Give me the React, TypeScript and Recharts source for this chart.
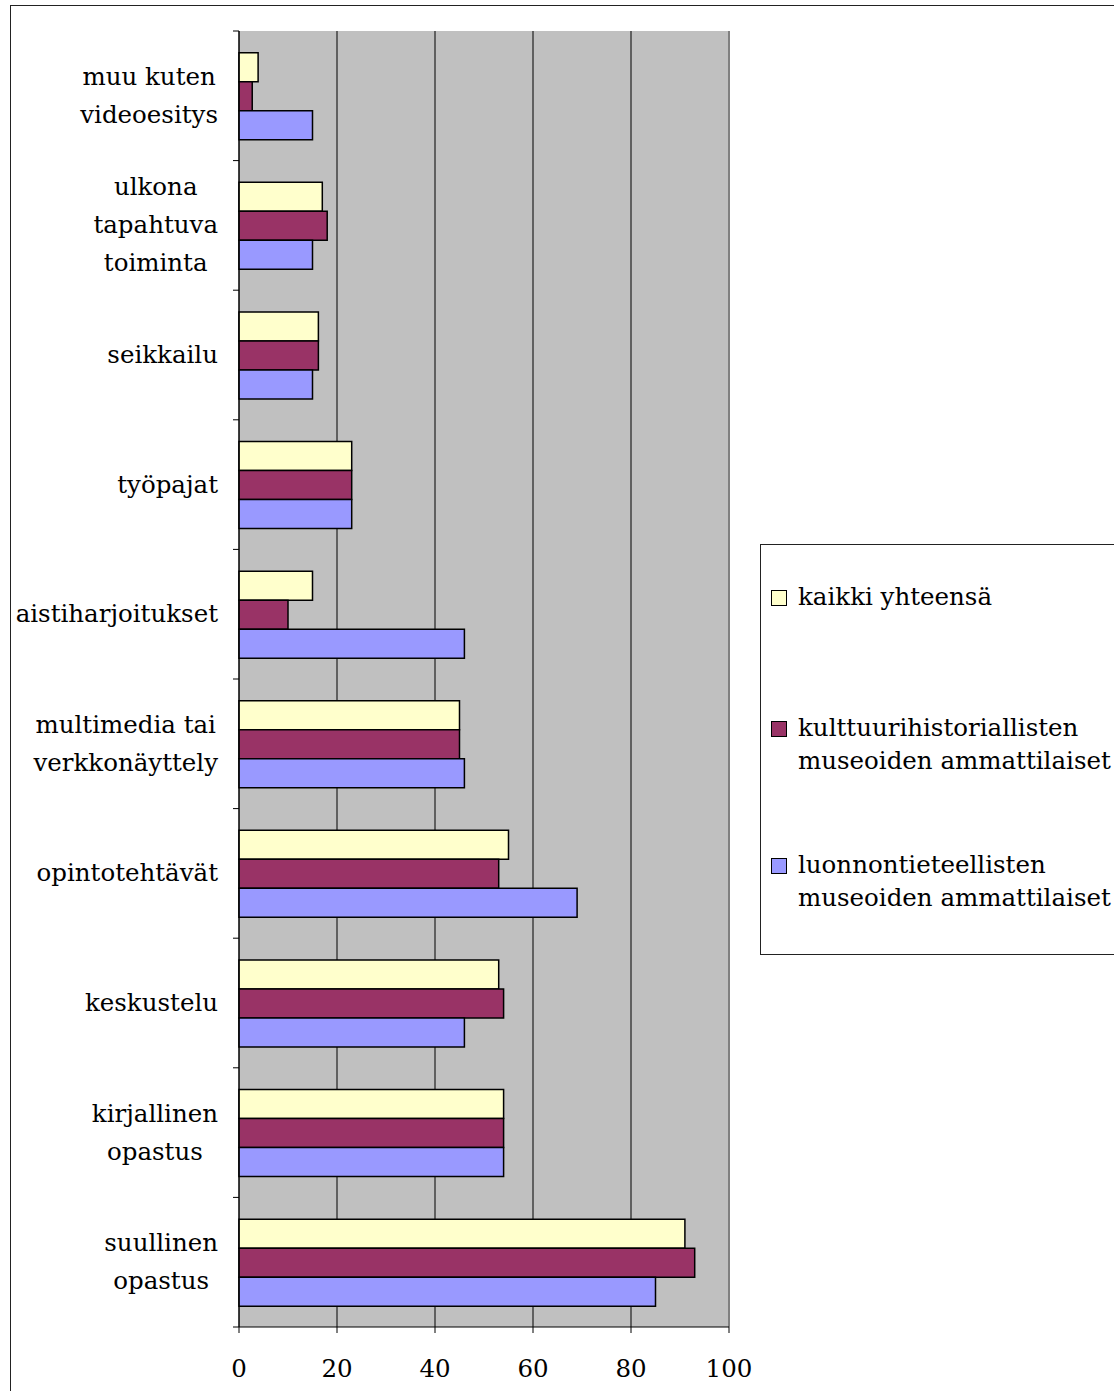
import React from 'react';
import { BarChart, Bar, XAxis, YAxis, CartesianGrid, Legend, ReferenceLine } from 'recharts';

const categories = [
  'muu kuten\nvideoesitys',
  'ulkona\ntapahtuva\ntoiminta',
  'seikkailu',
  'työpajat',
  'aistiharjoitukset',
  'multimedia tai\nverkkonäyttely',
  'opintotehtävät',
  'keskustelu',
  'kirjallinen\nopastus',
  'suullinen\nopastus',
];
const kaikki = [3.9, 17, 16.2, 23, 15, 45, 55, 53, 54, 91];
const kulttuuri = [2.7, 18, 16.2, 23, 10, 45, 53, 54, 54, 93];
const luonto = [15, 15, 15, 23, 46, 46, 69, 46, 54, 85];
const xTicks = [0, 20, 40, 60, 80, 100];

const seriesNames = [
  'kaikki yhteensä',
  'kulttuurihistoriallisten\nmuseoiden ammattilaiset',
  'luonnontieteellisten\nmuseoiden ammattilaiset',
];
const seriesKeys = ['kaikki', 'kulttuuri', 'luonto'];
const colors = ['#FFFFCC', '#993366', '#9999FF'];

const data = categories.map((name, i) => ({
  name,
  kaikki: kaikki[i],
  kulttuuri: kulttuuri[i],
  luonto: luonto[i],
}));

const W = 1114;
const H = 1391;
const FONT = "'DejaVu Serif', serif";
const FS = 24.5;
const PLOT_TOP = 31;
const PLOT_BOTTOM = 1327;
const PLOT_LEFT = 239;
const PLOT_RIGHT = 729;
const LINE_H = 38;

let ctx: CanvasRenderingContext2D | null = null;
const measure = (s: string) => {
  if (!ctx) {
    const c = document.createElement('canvas');
    ctx = c.getContext('2d');
  }
  if (!ctx) return s.length * FS * 0.55;
  ctx.font = `${FS}px ${FONT}`;
  return ctx.measureText(s).width;
};

const YTick = (props: any) => {
  const { y, payload, index } = props;
  const lines = String(payload.value).split('\n');
  const maxW = Math.max(...lines.map(measure));
  const cx = 218 - maxW / 2;
  const band = (PLOT_BOTTOM - PLOT_TOP) / categories.length;
  const startY = y - ((lines.length - 1) * LINE_H) / 2;
  return (
    <g>
      <line x1={PLOT_LEFT - 6} x2={PLOT_LEFT} y1={y - band / 2} y2={y - band / 2} stroke="#000" strokeWidth={1} />
      {index === categories.length - 1 && (
        <line x1={PLOT_LEFT - 6} x2={PLOT_LEFT} y1={y + band / 2} y2={y + band / 2} stroke="#000" strokeWidth={1} />
      )}
      {lines.map((l, i) => (
        <text
          key={i}
          x={cx}
          y={startY + i * LINE_H}
          dy={8}
          textAnchor="middle"
          fontFamily={FONT}
          fontSize={FS}
          fill="#000"
        >
          {l}
        </text>
      ))}
    </g>
  );
};

const XTick = (props: any) => {
  const { x, payload } = props;
  return (
    <text x={x} y={1377} textAnchor="middle" fontFamily={FONT} fontSize={FS} fill="#000">
      {payload.value}
    </text>
  );
};

const LegendBox = () => (
  <div
    style={{
      position: 'absolute',
      left: 760,
      top: 544,
      width: 400,
      height: 411,
      border: '1px solid #222',
      background: '#fff',
      fontFamily: FONT,
      fontSize: FS,
      color: '#000',
      boxSizing: 'border-box',
    }}
  >
    {seriesNames.map((n, i) => {
      const top = [40, 171, 308][i];
      return (
        <div key={i} style={{ position: 'absolute', left: 10, top, display: 'flex', alignItems: 'flex-start' }}>
          <div
            style={{
              width: 14,
              height: 14,
              background: colors[i],
              border: '1.5px solid #000',
              marginTop: 5,
              marginRight: 11,
              flexShrink: 0,
            }}
          />
          <div style={{ lineHeight: `${33}px`, whiteSpace: 'pre', marginTop: -5 }}>{n}</div>
        </div>
      );
    })}
  </div>
);

export default function App() {
  return (
    <div style={{ position: 'absolute', left: 0, top: 0, width: W, height: H, overflow: 'hidden', background: '#fff' }}>
      <div
        style={{
          position: 'absolute',
          left: 10,
          top: 5,
          width: 1200,
          height: 1500,
          border: '1.5px solid #222',
          boxSizing: 'border-box',
        }}
      />
      <div style={{ position: 'absolute', left: 0, top: 0 }}>
        <BarChart
          width={W}
          height={H}
          data={data}
          layout="vertical"
          margin={{ top: PLOT_TOP, right: W - PLOT_RIGHT, bottom: 0, left: 0 }}
          barCategoryGap="16.8%"
          barGap={0}
        >
          <CartesianGrid horizontal={false} vertical={true} fill="#C0C0C0" stroke="#000" strokeOpacity={1} strokeWidth={1} />
          <XAxis
            type="number"
            domain={[0, 100]}
            ticks={xTicks}
            height={H - PLOT_BOTTOM}
            axisLine={{ stroke: '#000' }}
            tickLine={{ stroke: '#000' }}
            tickSize={6}
            tick={<XTick />}
            interval={0}
          />
          <XAxis
            xAxisId="top"
            orientation="top"
            type="number"
            domain={[0, 100]}
            height={0}
            tick={false}
            tickLine={false}
            axisLine={{ stroke: '#808080', strokeWidth: 1.5 }}
          />
          <YAxis
            type="category"
            dataKey="name"
            width={PLOT_LEFT}
            axisLine={{ stroke: '#000' }}
            tickLine={false}
            tick={<YTick />}
            interval={0}
          />
          <ReferenceLine x={100} stroke="#808080" strokeWidth={2} />
          {seriesKeys.map((k, i) => (
            <Bar key={k} dataKey={k} fill={colors[i]} stroke="#000" strokeWidth={1.5} isAnimationActive={false} />
          ))}
          <Legend content={() => null} />
        </BarChart>
      </div>
      <LegendBox />
    </div>
  );
}
